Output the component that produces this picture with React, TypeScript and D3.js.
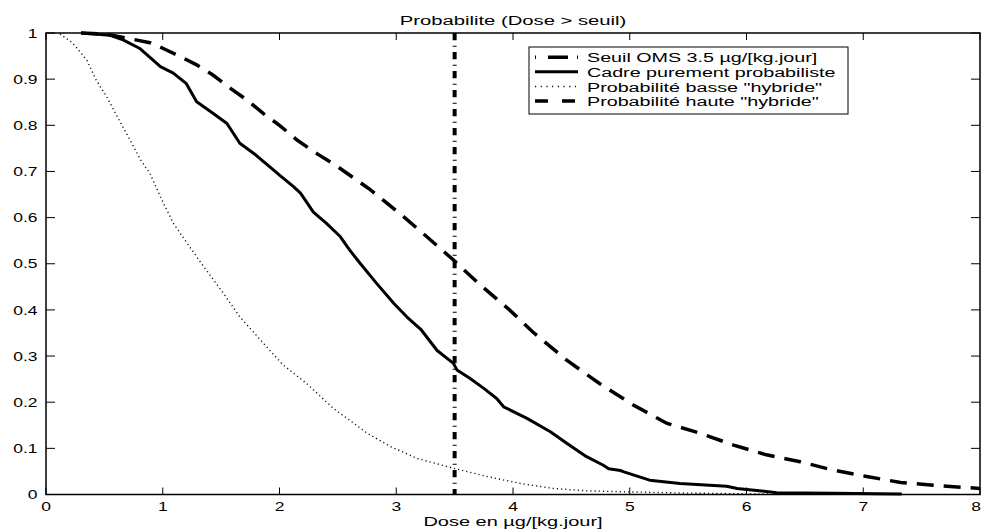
import React from "react";
import * as d3 from "d3";

const titleText = "Probabilite (Dose > seuil)";
const xLabelText = "Dose en µg/[kg.jour]";
const xTicks = [0, 1, 2, 3, 4, 5, 6, 7, 8];
const yTicks = [0, 0.1, 0.2, 0.3, 0.4, 0.5, 0.6, 0.7, 0.8, 0.9, 1];
const yTickLabels = ["0", "0.1", "0.2", "0.3", "0.4", "0.5", "0.6", "0.7", "0.8", "0.9", "1"];
const threshold = 3.5;

const legendLabels = [
  "Seuil OMS 3.5 µg/[kg.jour]",
  "Cadre purement probabiliste",
  "Probabilité basse \"hybride\"",
  "Probabilité haute \"hybride\"",
];

const probX = [0.3, 0.41, 0.55, 0.66, 0.8, 0.9, 0.98, 1.09, 1.2, 1.29, 1.43, 1.55, 1.66, 1.78, 1.95, 2.0, 2.12, 2.18, 2.29, 2.4, 2.52, 2.6, 2.69, 2.83, 2.98, 3.09, 3.21, 3.35, 3.49, 3.52, 3.63, 3.75, 3.86, 3.92, 4.12, 4.32, 4.46, 4.63, 4.77, 4.82, 4.92, 4.95, 5.17, 5.43, 5.83, 5.92, 6.26, 6.74, 7.33];
const probY = [1.0, 0.998, 0.995, 0.985, 0.967, 0.945, 0.927, 0.913, 0.891, 0.851, 0.826, 0.804, 0.761, 0.739, 0.703, 0.692, 0.667, 0.653, 0.612, 0.588, 0.559, 0.53, 0.501, 0.458, 0.414, 0.385, 0.358, 0.312, 0.284, 0.27, 0.252, 0.23, 0.208, 0.19, 0.165, 0.136, 0.111, 0.082, 0.064, 0.056, 0.052, 0.049, 0.031, 0.024, 0.018, 0.013, 0.004, 0.0026, 0.001];

const highX = [0.3, 0.5, 0.63, 0.89, 1.0, 1.15, 1.29, 1.43, 1.58, 1.72, 1.86, 2.0, 2.15, 2.33, 2.5, 2.78, 3.03, 3.26, 3.49, 3.72, 3.97, 4.17, 4.46, 4.75, 5.03, 5.32, 5.6, 5.89, 6.17, 6.46, 6.74, 7.03, 7.32, 7.6, 8.0];
const highY = [1.0, 0.998, 0.992, 0.979, 0.967, 0.949, 0.931, 0.909, 0.88, 0.855, 0.826, 0.8, 0.768, 0.737, 0.71, 0.66, 0.609, 0.559, 0.508, 0.454, 0.4, 0.352, 0.291, 0.239, 0.194, 0.154, 0.133, 0.107, 0.086, 0.071, 0.053, 0.039, 0.026, 0.02, 0.013];

const lowX = [0.12, 0.23, 0.35, 0.43, 0.52, 0.61, 0.72, 0.81, 0.89, 0.98, 1.09, 1.21, 1.35, 1.52, 1.66, 1.89, 2.03, 2.23, 2.46, 2.75, 2.95, 3.18, 3.49, 3.78, 4.06, 4.35, 4.63, 4.92, 5.5, 6.2];
const lowY = [0.998, 0.978, 0.941, 0.898, 0.862, 0.819, 0.768, 0.725, 0.696, 0.645, 0.588, 0.544, 0.494, 0.436, 0.385, 0.32, 0.281, 0.241, 0.187, 0.133, 0.104, 0.078, 0.057, 0.039, 0.024, 0.013, 0.008, 0.006, 0.003, 0.001];

const W = 982;
const H = 531;
const left = 46;
const right = 980;
const top = 33;
const bottom = 494.5;
const FONT = "'Liberation Sans', Arial, Helvetica, sans-serif";

const x = d3.scaleLinear().domain([0, 8]).range([left, right]);
const y = d3.scaleLinear().domain([0, 1]).range([bottom, top]);

const line = d3
  .line<[number, number]>()
  .x((d) => x(d[0]))
  .y((d) => y(d[1]));

const zip = (a: number[], b: number[]) => a.map((v, i) => [v, b[i]] as [number, number]);

function SText(props: {
  x: number;
  y: number;
  size: number;
  sx: number;
  anchor?: string;
  children: React.ReactNode;
}) {
  return (
    <text
      transform={`translate(${props.x},${props.y}) scale(${props.sx},1)`}
      fontSize={props.size}
      fontFamily={FONT}
      textAnchor={props.anchor || "start"}
      fill="#000"
    >
      {props.children}
    </text>
  );
}

export default function App() {
  const legX0 = 529;
  const legY0 = 47;
  const legRows = [57.3, 71.7, 86.5, 101];
  return (
    <svg
      width={W}
      height={H}
      style={{ position: "absolute", left: 0, top: 0, background: "#fff" }}
    >
      <rect x={0} y={0} width={W} height={H} fill="#fff" />
      <clipPath id="plotclip">
        <rect x={left} y={top - 2} width={right - left} height={bottom - top + 4} />
      </clipPath>
      <g clipPath="url(#plotclip)">
        <path
          d={line(zip(lowX, lowY)) || ""}
          fill="none"
          stroke="#111"
          strokeWidth={1.4}
          strokeDasharray="1.2 3"
        />
        <path
          d={line(zip(highX, highY)) || ""}
          fill="none"
          stroke="#000"
          strokeWidth={3.5}
          strokeDasharray="17 10"
        />
        <path
          d={line(zip(probX, probY)) || ""}
          fill="none"
          stroke="#000"
          strokeWidth={3}
          strokeLinejoin="round"
        />
        <line
          x1={x(threshold)}
          x2={x(threshold)}
          y1={y(1)}
          y2={y(0)}
          stroke="#000"
          strokeWidth={4}
          strokeDasharray="7.3 5.5 1 5.2"
        />
      </g>
      <rect
        x={left}
        y={top}
        width={right - left}
        height={bottom - top}
        fill="none"
        stroke="#000"
        strokeWidth={1.5}
      />
      {xTicks.map((t, i) => (
        <g key={"xt" + t}>
          <line x1={x(t)} x2={x(t)} y1={bottom} y2={bottom - 7} stroke="#000" strokeWidth={1} />
          <line x1={x(t)} x2={x(t)} y1={top} y2={top + 7} stroke="#000" strokeWidth={1} />
          <SText
            x={i === xTicks.length - 1 ? x(t) - 4 : x(t)}
            y={511}
            size={12.5}
            sx={1.4}
            anchor="middle"
          >
            {String(t)}
          </SText>
        </g>
      ))}
      {yTicks.map((t, i) => (
        <g key={"yt" + t}>
          <line x1={left} x2={left + 9} y1={y(t)} y2={y(t)} stroke="#000" strokeWidth={1} />
          <line x1={right} x2={right - 9} y1={y(t)} y2={y(t)} stroke="#000" strokeWidth={1} />
          <SText x={37.5} y={y(t) + 4.6} size={12.5} sx={1.4} anchor="end">
            {yTickLabels[i]}
          </SText>
        </g>
      ))}
      <SText x={(left + right) / 2} y={24.5} size={13.5} sx={1.5} anchor="middle">
        {titleText}
      </SText>
      <SText x={(left + right) / 2} y={526} size={13.5} sx={1.48} anchor="middle">
        {xLabelText}
      </SText>
      <rect x={legX0} y={legY0} width={319} height={67} fill="#fff" stroke="#000" strokeWidth={1} />
      <line
        x1={535}
        x2={578}
        y1={legRows[0]}
        y2={legRows[0]}
        stroke="#000"
        strokeWidth={3.5}
        strokeDasharray="1 12 20 9 1 10"
      />
      <line x1={535} x2={578} y1={legRows[1]} y2={legRows[1]} stroke="#000" strokeWidth={3} />
      <line
        x1={535}
        x2={578}
        y1={legRows[2]}
        y2={legRows[2]}
        stroke="#111"
        strokeWidth={1.4}
        strokeDasharray="1.2 4.5"
      />
      <line
        x1={535}
        x2={578}
        y1={legRows[3]}
        y2={legRows[3]}
        stroke="#000"
        strokeWidth={3.5}
        strokeDasharray="13 14"
      />
      {legendLabels.map((lab, i) => (
        <SText key={lab} x={587} y={legRows[i] + 5} size={13.5} sx={1.46}>
          {lab}
        </SText>
      ))}
    </svg>
  );
}
